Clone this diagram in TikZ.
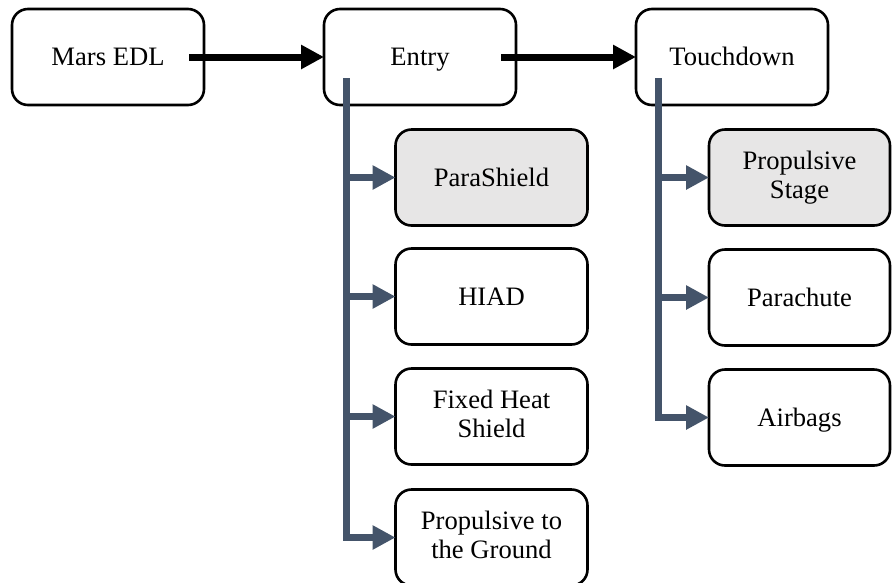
\documentclass[tikz,border=0pt]{standalone}
\usepackage{fontspec}
\setmainfont{Liberation Serif}
\usetikzlibrary{arrows.meta}
\definecolor{slate}{HTML}{44546A}
\definecolor{boxgray}{HTML}{E7E6E6}
\begin{document}
\begin{tikzpicture}[x=1pt,y=-1pt,
  box/.style={draw=black, line width=2.6pt, rounded corners=16pt,
    minimum width=192pt, minimum height=96pt, align=center,
    font=\fontsize{26.6}{29.5}\selectfont, inner sep=0pt, outer sep=0pt,
    execute at begin node={\rule{0pt}{23.6pt}},
    execute at end node={\rule[-5.8pt]{0pt}{5.8pt}}},
  shadedbox/.style={box, fill=boxgray},
  narrowbox/.style={minimum width=181pt},
  mainarrow/.style={black, line width=7pt, -{Triangle[length=23pt,width=23pt]}},
  branch/.style={slate, line width=7pt, -{Triangle[length=23pt,width=23pt]}}]
\useasboundingbox (0,0) rectangle (893,582);
\clip (0,0) rectangle (893,582);
% top row
\node[box] (mars) at (108,57) {Mars EDL};
\node[box] (entry) at (420,57) {Entry};
\node[box] (touch) at (732,57) {Touchdown};
% entry children
\node[shadedbox] (para) at (491.5,177.5) {ParaShield};
\node[box] (hiad) at (491.5,296.5) {HIAD};
\node[box] (fixed) at (491.5,416.5) {Fixed Heat\\Shield};
\node[box] (propg) at (491.5,537.5) {Propulsive to\\the Ground};
% touchdown children
\node[shadedbox,narrowbox] (props) at (799.5,177.5) {Propulsive\\Stage};
\node[box,narrowbox] (chute) at (799.5,297.5) {Parachute};
\node[box,narrowbox] (bags) at (799.5,417.5) {Airbags};
% main arrows
\coordinate (ms) at (189,57);
\coordinate (es) at (501,57);
\draw[mainarrow] (ms) -- (entry.west);
\draw[mainarrow] (es) -- (touch.west);
% branches
\coordinate (espine) at (346.5,78);
\coordinate (tspine) at (658,78);
\draw[branch] (espine) |- (para.west);
\draw[branch] (espine) |- (hiad.west);
\draw[branch] (espine) |- (fixed.west);
\draw[branch] (espine) |- (propg.west);
\draw[branch] (tspine) |- (props.west);
\draw[branch] (tspine) |- (chute.west);
\draw[branch] (tspine) |- (bags.west);
\end{tikzpicture}
\end{document}
